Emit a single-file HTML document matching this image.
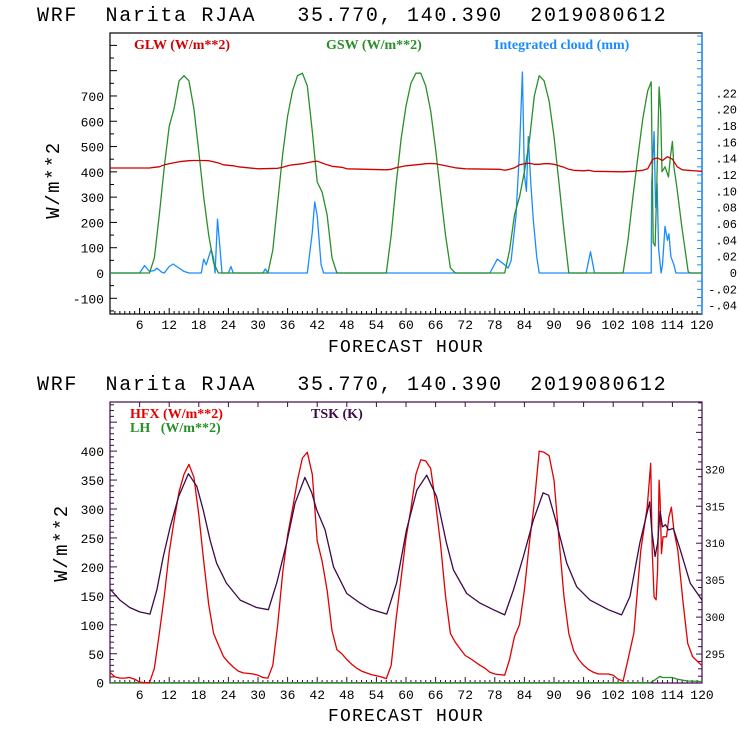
<!DOCTYPE html>
<html><head><meta charset="utf-8">
<style>
html,body{margin:0;padding:0;background:#fff;}
svg{display:block;}
text{white-space:pre;}
.mono{font-family:"Liberation Mono",monospace;}
.serif{font-family:"Liberation Serif",serif;font-weight:bold;}
</style></head>
<body>
<svg id="c" width="740" height="740" viewBox="0 0 740 740" xmlns="http://www.w3.org/2000/svg"></svg>
<script>
// ---------- DATA ----------
const xTicks = [6,12,18,24,30,36,42,48,54,60,66,72,78,84,90,96,102,108,114,120];
const topLeftTicks = [-100,0,100,200,300,400,500,600,700];
const topRightTicks = [-0.04,-0.02,0,0.02,0.04,0.06,0.08,0.10,0.12,0.14,0.16,0.18,0.20,0.22];
const topRightLabels = ["-.04","-.02","0",".02",".04",".06",".08",".10",".12",".14",".16",".18",".20",".22"];
const botLeftTicks = [0,50,100,150,200,250,300,350,400];
const botRightTicks = [295,300,305,310,315,320];

const gswHours = [0,8,9,10,11,12,13,14,15,16,17,18,19,20,21,22,32,33,34,35,36,37,38,39,40,41,42,43,44,45,46,56,57,58,59,60,61,62,63,64,65,66,67,68,69,70,80,81,82,83,84,85,86,87,88,89,90,91,92,93,104,105,106,107,108,109,109.7,110.1,110.5,110.8,111.3,111.6,111.9,112.5,113.2,113.6,114,114.3,114.9,115.9,117.2,117.6,120];
const gswVals  = [0,0,60,230,420,580,650,760,780,760,650,480,300,150,40,0,0,90,280,470,620,720,780,790,740,560,360,320,230,60,0,0,150,350,530,660,750,790,790,740,640,490,320,150,20,0,0,90,230,300,400,520,700,780,760,680,540,360,170,0,0,130,300,460,610,720,756,120,107,316,736,644,400,420,380,460,520,420,341,183,5,0,0];

const glwHours = [0,8,9,10,11,12,13,14,15,16,17,18,19,20,21,22,23,24,25,26,27,28,29,30,34,35,36,37,38,39,40,41,42,43,44,45,46,47,48,56,57,58,59,60,61,62,63,64,65,66,67,68,69,70,71,72,79,80,81,82,83,84,85,86,87,88,89,90,91,92,93,94,96,97,98,104,106,108,109,110,111,112,113,114,115,116,118,120];
const glwVals  = [415,415,418,420,428,432,436,440,442,444,445,445,445,444,440,435,428,426,424,420,418,416,414,412,414,418,424,428,430,432,436,440,442,435,428,422,420,418,412,408,410,416,420,424,426,428,430,432,433,432,428,424,420,416,414,412,410,406,410,416,428,432,434,430,430,432,432,430,424,418,410,406,404,406,402,400,402,406,412,450,455,445,460,450,420,408,405,402];

const cloudHours = [0,6,7,8,9,9.5,10.5,11,12,12.8,14,15,16,18.5,19,19.5,20.5,21,21.3,21.8,22.3,22.7,24,24.5,25,31,31.5,32,40,41,41.5,42,42.8,43.3,77,78.5,80,80.7,81.3,82.3,83,83.6,84,84.4,84.8,85.3,85.8,86.5,87,96.5,97.4,98.2,109.7,109.8,110.3,110.6,110.9,111.2,111.7,112,112.5,113,113.3,113.7,114.3,114.7,120];
const cloudVals  = [0,0,0.009,0.002,0.003,0.006,0.001,0,0.008,0.011,0.006,0.002,0,0,0.017,0.01,0.029,0.018,0,0.066,0.03,0,0,0.008,0,0,0.005,0,0,0.05,0.087,0.07,0.01,0,0,0.017,0.01,0.006,0.015,0.07,0.15,0.246,0.12,0.1,0.167,0.11,0.065,0.02,0,0,0.026,0,0,0.11,0.173,0.08,0.11,0.03,0,0.01,0.057,0.04,0.048,0.02,0.01,0,0];

const hfxHours = [0,1,2,3,4,5,6,7,8,9,10,11,12,13,14,15,16,17,18,19,20,21,22,23,24,25,26,27,28,29,30,31,32,33,34,35,36,37,38,39,40,41,42,43,44,45,46,47,48,49,50,51,52,53,54,55,56,57,58,59,60,61,62,63,64,65,66,67,68,69,70,71,72,73,74,75,76,77,78,79,80,81,82,83,84,85,86,87,88,89,90,91,92,93,94,95,96,97,98,99,100,101,102,103,104,105,106.2,107.6,108.9,109.6,109.9,110.3,110.7,111,111.3,111.5,111.8,112.1,112.8,113.3,113.8,114.3,115.1,116.1,117.1,118.1,119.8,120];
const hfxVals  = [18,10,8,8,9,6,1,0,0,25,85,150,225,280,330,360,377,355,290,210,135,85,65,45,35,27,20,17,16,15,13,9,8,30,100,190,255,300,350,388,398,360,245,210,160,90,57,50,40,32,25,20,17,14,12,10,7,30,110,180,250,300,360,385,383,370,310,240,150,85,70,58,47,42,36,30,25,18,15,14,13,40,80,100,160,240,310,400,398,392,350,250,150,85,55,40,30,23,18,15,15,15,13,6,3,40,86,229,303,379,229,148,143,195,350,315,223,252,252,286,303,263,229,143,68,45,31,30];

const tskHours = [0,2,4,6,8.1,9.5,10.8,12.2,13.9,15.9,17.6,18.9,20.3,21.6,23.6,26.4,29.7,32.1,33.8,35.8,37.5,39.5,40.9,41.9,43.6,45.3,48,50.7,52.7,56.1,58.1,60.1,62.2,64.2,66.2,68.2,69.6,72.3,75,77.7,80,81.8,83.8,85.8,87.8,88.9,90.5,92.6,94.6,97.3,101,103.7,105.4,107.4,109.4,109.8,110.5,111,111.5,112,112.6,113.2,114.2,115.6,117.6,120];
const tskVals  = [303.8,302.3,301.3,300.7,300.4,303.7,308.2,312.2,316.3,319.4,317.7,314.5,310.4,307.3,304.6,302.3,301.3,301.0,304.6,310,315.4,318.9,316.8,314.5,311.8,306.8,303.2,301.9,301.1,300.4,304.6,311.8,317.2,319.2,316.3,310,306.4,303.2,301.9,301,300.3,303.7,308.2,313.1,316.8,316.5,312.7,307.3,304.1,302.3,301,300.3,302.8,310,315.6,311.8,308.2,310,314.3,312.2,312.5,311.8,312,309.1,304.6,302.3];

const lhHours = [0,109.5,110.5,111.5,112,114,115,117,120];
const lhVals  = [0,0,5,11,9,9,6,3,2];

// ---------- GEOMETRY ----------
const NS = "http://www.w3.org/2000/svg";
const svg = document.getElementById('c');
const X0 = 110, X1 = 702;
const xS = h => X0 + (X1 - X0) * h / 120;
const T_TOP = 33, T_BOT = 314;
const tY = v => 273 - v * 0.2529;
const tYR = v => 273 - v * 817;
const B_TOP = 402, B_BOT = 683;
const bY = v => 682.7 - v * 0.579;
const bYR = v => 469.3 - (v - 320) * 7.39;

function mk(tag, attrs, parent) {
  const e = document.createElementNS(NS, tag);
  for (const k in attrs) e.setAttribute(k, attrs[k]);
  (parent || svg).appendChild(e);
  return e;
}
function grp(name) {
  const g = mk('g', {});
  
  
  return g;
}
function txt(g, x, y, s, cls, size, fill, anchor, extra) {
  const t = mk('text', Object.assign({x: x, y: y, class: cls, 'font-size': size, fill: fill, 'text-anchor': anchor || 'start'}, extra || {}), g);
  t.textContent = s;
  return t;
}
function series(g, hours, vals, xf, yf, color, name) {
  let d = '';
  for (let i = 0; i < hours.length; i++) d += (i ? 'L' : 'M') + xf(hours[i]).toFixed(1) + ',' + yf(vals[i]).toFixed(1);
  const p = mk('path', {d: d, fill: 'none', stroke: color, 'stroke-width': 1.3, 'stroke-linejoin': 'round'}, g);
  
  
}
function title(y, name) {
  const g = grp(name);
  txt(g, 37, y, "WRF  Narita RJAA   35.770, 140.390  2019080612", 'mono', 20, '#000', 'start', {'letter-spacing': '1.7'});
}

// ===== TOP PANEL =====
title(21, 'top-chart-title');
{
  const g = grp('top-chart');
  const c = '#000';
  mk('rect', {x: X0, y: T_TOP, width: X1 - X0, height: T_BOT - T_TOP, fill: 'none', stroke: c, 'stroke-width': 1.2}, g);
  const xt = grp('top-x-axis'); g.appendChild(xt);
  for (let h = 1; h < 120; h++) {
    const maj = h % 6 === 0;
    mk('line', {x1: xS(h), x2: xS(h), y1: T_BOT, y2: T_BOT - (maj ? 6 : 3), stroke: c, 'stroke-width': 1}, xt);
  }
  xTicks.forEach(h => txt(xt, xS(h), 329, String(h), 'mono', 13, '#000', 'middle'));
  txt(xt, 406, 352, 'FORECAST HOUR', 'mono', 18, '#000', 'middle', {'letter-spacing': '1.2'});
  const yl = grp('top-left-y-axis'); g.appendChild(yl);
  for (let v = -150; v <= 950; v += 50) {
    const y = tY(v); if (y < T_TOP || y > T_BOT) continue;
    mk('line', {x1: X0, x2: X0 + (v % 100 === 0 ? 7 : 4), y1: y, y2: y, stroke: c, 'stroke-width': 1}, yl);
  }
  topLeftTicks.forEach(v => txt(yl, 104, tY(v) + 5, String(v), 'mono', 13, '#000', 'end'));
  txt(yl, 0, 0, 'W/m**2', 'mono', 19, '#000', 'middle', {transform: 'translate(59,180) rotate(-90)', 'letter-spacing': '1.5'});
  const yr = grp('top-right-y-axis'); g.appendChild(yr);
  mk('line', {x1: X1, x2: X1, y1: T_TOP, y2: T_BOT, stroke: '#1a8cff', 'stroke-width': 1.4}, yr);
  for (let k = -4; k <= 29; k++) {
    const y = tYR(k / 100); if (y < T_TOP || y > T_BOT) continue;
    mk('line', {x1: X1, x2: X1 - 5, y1: y, y2: y, stroke: '#1a8cff', 'stroke-width': 1}, yr);
  }
  topRightTicks.forEach((v, i) => txt(yr, 737, tYR(v) + 4, topRightLabels[i], 'mono', 12, '#000', 'end'));
  const lg = grp('top-legend'); g.appendChild(lg);
  txt(lg, 134, 49, 'GLW (W/m**2)', 'serif', 14, '#d00000');
  txt(lg, 326, 49, 'GSW (W/m**2)', 'serif', 14, '#2a8f2a');
  txt(lg, 494, 49, 'Integrated cloud (mm)', 'serif', 14, '#1a8cff');
  const sg = grp('top-series'); g.appendChild(sg);
  series(sg, cloudHours, cloudVals, xS, tYR, '#1a8cff', 'cloud-line');
  series(sg, gswHours, gswVals, xS, tY, '#2a8f2a', 'gsw-line');
  series(sg, glwHours, glwVals, xS, tY, '#d00000', 'glw-line');
}

// ===== BOTTOM PANEL =====
title(390, 'bottom-chart-title');
{
  const g = grp('bottom-chart');
  const c = '#3c0a46';
  mk('rect', {x: X0, y: B_TOP, width: X1 - X0, height: B_BOT - B_TOP, fill: 'none', stroke: c, 'stroke-width': 1.2}, g);
  const xt = grp('bottom-x-axis'); g.appendChild(xt);
  for (let h = 1; h < 120; h++) {
    const maj = h % 6 === 0;
    mk('line', {x1: xS(h), x2: xS(h), y1: B_BOT, y2: B_BOT - (maj ? 6 : 3), stroke: c, 'stroke-width': 1}, xt);
    if (maj) mk('line', {x1: xS(h), x2: xS(h), y1: B_TOP, y2: B_TOP + 5, stroke: c, 'stroke-width': 1}, xt);
  }
  xTicks.forEach(h => txt(xt, xS(h), 699, String(h), 'mono', 13, '#000', 'middle'));
  txt(xt, 406, 721, 'FORECAST HOUR', 'mono', 18, '#000', 'middle', {'letter-spacing': '1.2'});
  const yl = grp('bottom-left-y-axis'); g.appendChild(yl);
  for (let v = 10; v <= 480; v += 10) {
    const y = bY(v); if (y < B_TOP) continue;
    mk('line', {x1: X0, x2: X0 + (v % 50 === 0 ? 7 : 4), y1: y, y2: y, stroke: c, 'stroke-width': 1}, yl);
  }
  botLeftTicks.forEach(v => txt(yl, 104, bY(v) + 5, String(v), 'mono', 13, '#000', 'end'));
  txt(yl, 0, 0, 'W/m**2', 'mono', 19, '#000', 'middle', {transform: 'translate(67,543) rotate(-90)', 'letter-spacing': '1.5'});
  const yr = grp('bottom-right-y-axis'); g.appendChild(yr);
  for (let k = 292; k <= 329; k++) {
    const y = bYR(k); if (y < B_TOP || y > B_BOT) continue;
    mk('line', {x1: X1, x2: X1 - (k % 5 === 0 ? 6 : 4), y1: y, y2: y, stroke: c, 'stroke-width': 1}, yr);
  }
  botRightTicks.forEach(v => txt(yr, 705, bYR(v) + 4, String(v), 'mono', 11, '#000', 'start'));
  const lg = grp('bottom-legend'); g.appendChild(lg);
  txt(lg, 130, 418, 'HFX (W/m**2)', 'serif', 14, '#e00000');
  txt(lg, 130, 432, 'LH   (W/m**2)', 'serif', 14, '#2a8f2a');
  txt(lg, 311, 418, 'TSK (K)', 'serif', 14, '#3c0a46');
  const sg = grp('bottom-series'); g.appendChild(sg);
  series(sg, lhHours, lhVals, xS, bY, '#2a8f2a', 'lh-line');
  series(sg, hfxHours, hfxVals, xS, bY, '#e00000', 'hfx-line');
  series(sg, tskHours, tskVals, xS, bYR, '#3c0a46', 'tsk-line');
}
</script>
</body></html>
